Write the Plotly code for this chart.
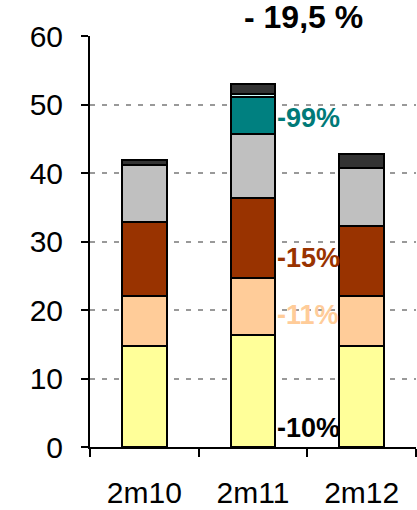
import plotly.graph_objects as go

categories = ["2m10", "2m11", "2m12"]

yellow = [14.8, 16.3, 14.8]
peach = [7.3, 8.4, 7.3]
brown = [10.8, 11.6, 10.2]
grey = [8.2, 9.4, 8.4]
teal = [0.0, 5.4, 0.0]
lightcyan = [0.0, 0.4, 0.0]
dark = [0.8, 1.5, 2.1]

series_values = [yellow, peach, brown, grey, teal, lightcyan, dark]
series_colors = ["#FFFF99", "#FFCC99", "#993300", "#C0C0C0", "#008080", "#CCFFFF", "#333333"]

label_texts = ["-99%", "-15%", "-11%", "-10%"]
label_colors = ["#007A78", "#993300", "#FFCC99", "#000000"]
label_y = [48.0, 27.6, 19.3, 2.8]

title_text = "- 19,5 %"
y_ticks = [0, 10, 20, 30, 40, 50, 60]

FONT = "Liberation Sans, Arial, sans-serif"

fig = go.Figure()
for vals, col in zip(series_values, series_colors):
    fig.add_trace(go.Bar(
        x=categories, y=vals, width=0.41,
        marker=dict(color=col, line=dict(color="#000000", width=2)),
        showlegend=False, hoverinfo="skip",
    ))

for txt, col, yy in zip(label_texts, label_colors, label_y):
    fig.add_annotation(
        x=1.205, y=yy, xref="x", yref="y", text="<b>" + txt + "</b>",
        showarrow=False, xanchor="left", yanchor="middle",
        font=dict(family=FONT, size=27, color=col),
    )

fig.add_annotation(
    x=0.655, y=1.046, xref="paper", yref="paper", text="<b>" + title_text + "</b>",
    showarrow=False, xanchor="center", yanchor="middle",
    font=dict(family=FONT, size=32, color="#000000"),
)

fig.update_layout(
    barmode="stack",
    width=417, height=510,
    margin=dict(l=90, r=1, t=36, b=63),
    paper_bgcolor="white", plot_bgcolor="white",
    font=dict(family=FONT, size=30, color="#000000"),
)
fig.update_xaxes(
    type="category", range=[-0.5, 2.5],
    showline=True, linecolor="#000000", linewidth=2,
    ticks="outside", tickson="boundaries", ticklen=8, tickwidth=2, tickcolor="#000000",
    showgrid=False, tickfont=dict(family=FONT, size=30), ticklabelstandoff=18,
)
fig.update_yaxes(
    range=[0, 60], tickvals=y_ticks,
    showline=True, linecolor="#000000", linewidth=2,
    ticks="outside", ticklen=7, tickwidth=2, tickcolor="#000000",
    showgrid=True, gridcolor="#999999", gridwidth=2, griddash="5px,7px",
    zeroline=False, tickfont=dict(family=FONT, size=30), ticklabelstandoff=12,
)

fig.write_html(
    "out.html",
    config={"displayModeBar": False},
    post_script="document.body.style.margin='0';document.body.style.overflow='hidden';",
)
